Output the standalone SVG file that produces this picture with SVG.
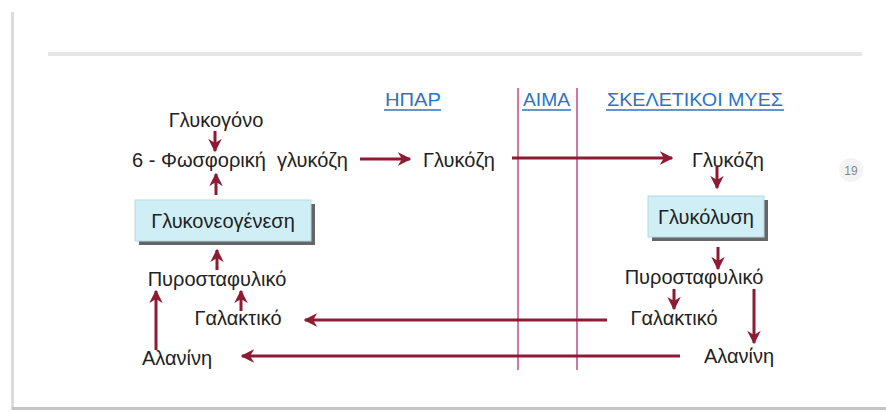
<svg xmlns="http://www.w3.org/2000/svg" width="886" height="412" viewBox="0 0 886 412">
<defs>
<marker id="ah" viewBox="0 0 10 10" refX="9" refY="5" markerWidth="4.5" markerHeight="4.5" orient="auto" markerUnits="strokeWidth">
<path d="M0,0 L10,5 L0,10 L3,5 Z" fill="#8e1b33"/>
</marker>
</defs>
<style>
.t{font-family:"Liberation Sans",Arial,sans-serif;font-size:20px;fill:#222;}
.h{font-family:"Liberation Sans",Arial,sans-serif;font-size:19px;fill:#2a74c4;}
.ul{stroke:#2a74c4;stroke-width:1.5;}
.a{stroke:#8e1b33;stroke-width:3;fill:none;marker-end:url(#ah);}
.v{stroke:#d774a6;stroke-width:2;}
.box{fill:#cfeef6;stroke:#b8d8e0;stroke-width:1;}
.sh{fill:#666;}
</style>
<rect width="886" height="412" fill="#fff"/>
<g id="frame">
<rect x="11" y="12" width="3" height="398" fill="#dcdcdc"/>
<rect x="12" y="407" width="874" height="3" fill="#c4c4c4"/>
<rect x="48" y="52" width="814" height="4" fill="#e6e6e6"/>
<circle cx="851" cy="170" r="12" fill="#f4f4f4"/>
<text x="851" y="175" font-family="Liberation Sans,Arial,sans-serif" font-size="12" fill="#888" text-anchor="middle">19</text>
</g>
<g id="headers">
<text class="h" x="385" y="106" textLength="56" lengthAdjust="spacingAndGlyphs">ΗΠΑΡ</text>
<line class="ul" x1="384" y1="110" x2="441" y2="110"/>
<text class="h" x="523" y="106" textLength="47" lengthAdjust="spacingAndGlyphs">ΑΙΜΑ</text>
<line class="ul" x1="522" y1="110" x2="571" y2="110"/>
<text class="h" x="607" y="106" textLength="176" lengthAdjust="spacingAndGlyphs">ΣΚΕΛΕΤΙΚΟΙ ΜΥΕΣ</text>
<line class="ul" x1="606" y1="110" x2="784" y2="110"/>
</g>
<g id="blood-lines">
<line class="v" x1="518" y1="88" x2="518" y2="370"/>
<line class="v" x1="577" y1="88" x2="577" y2="370"/>
</g>
<g id="connectors">
<line class="a" x1="215" y1="131" x2="215" y2="151"/>
<line class="a" x1="216" y1="195" x2="216" y2="174"/>
<line class="a" x1="360" y1="159" x2="410" y2="159"/>
<line class="a" x1="512" y1="158" x2="672" y2="158"/>
<line class="a" x1="717" y1="167" x2="717" y2="188"/>
<line class="a" x1="718" y1="247" x2="718" y2="269"/>
<line class="a" x1="674" y1="289" x2="674" y2="309"/>
<line class="a" x1="754" y1="289" x2="754" y2="343"/>
<line class="a" x1="607" y1="320" x2="305" y2="320"/>
<line class="a" x1="680" y1="356" x2="242" y2="356"/>
<line class="a" x1="217" y1="270" x2="217" y2="250"/>
<line class="a" x1="241" y1="311" x2="241" y2="291"/>
<line class="a" x1="156" y1="350" x2="156" y2="291"/>
</g>
<g id="n-glykogono"><text class="t" x="216" y="127" text-anchor="middle">Γλυκογόνο</text></g>
<g id="n-6p"><text class="t" x="240" y="167" text-anchor="middle" xml:space="preserve">6 - Φωσφορική  γλυκόζη</text></g>
<g id="n-gng">
<rect class="sh" x="139" y="204" width="176" height="41"/>
<rect class="box" x="135" y="200" width="176" height="41"/>
<text class="t" x="223" y="228" text-anchor="middle">Γλυκονεογένεση</text>
</g>
<g id="n-gluc-liver"><text class="t" x="459" y="167" text-anchor="middle">Γλυκόζη</text></g>
<g id="n-gluc-muscle"><text class="t" x="728" y="167" text-anchor="middle">Γλυκόζη</text></g>
<g id="n-glycolysis">
<rect class="sh" x="652" y="200" width="116" height="41"/>
<rect class="box" x="648" y="196" width="116" height="41"/>
<text class="t" x="706" y="224" text-anchor="middle">Γλυκόλυση</text>
</g>
<g id="n-pyr-r"><text class="t" x="694" y="284" text-anchor="middle">Πυροσταφυλικό</text></g>
<g id="n-lac-r"><text class="t" x="674" y="325" text-anchor="middle">Γαλακτικό</text></g>
<g id="n-ala-r"><text class="t" x="739" y="363" text-anchor="middle">Αλανίνη</text></g>
<g id="n-pyr-l"><text class="t" x="217" y="286" text-anchor="middle">Πυροσταφυλικό</text></g>
<g id="n-lac-l"><text class="t" x="238" y="325" text-anchor="middle">Γαλακτικό</text></g>
<g id="n-ala-l"><text class="t" x="177" y="365" text-anchor="middle">Αλανίνη</text></g>
</svg>
